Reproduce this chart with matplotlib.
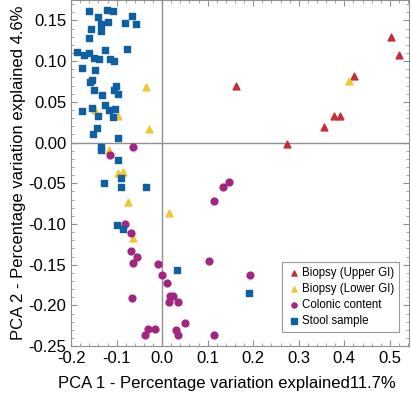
import numpy as np
import matplotlib
matplotlib.use("Agg")
import matplotlib.pyplot as plt

plt.rcParams['font.family'] = ['Liberation Sans', 'DejaVu Sans']

# Biopsy (Upper GI)
upper_x = [0.163, 0.274, 0.355, 0.377, 0.390, 0.421, 0.503, 0.521]
upper_y = [0.070, -0.002, 0.019, 0.032, 0.033, 0.082, 0.130, 0.107]

# Biopsy (Lower GI)
lower_x = [0.410, -0.036, -0.148, -0.097, -0.028, -0.116, -0.098, -0.087, -0.075, 0.016, -0.065]
lower_y = [0.075, 0.068, 0.040, 0.033, 0.017, -0.009, -0.037, -0.036, -0.073, -0.087, -0.117]

# Colonic content
colon_x = [-0.065, -0.114, -0.082, -0.068, -0.068, -0.056, -0.063, -0.009, 0.103, 0.000,
           0.010, -0.066, 0.017, 0.024, 0.014, 0.035, 0.146, 0.134, 0.114, 0.051,
           -0.031, -0.015, -0.037, 0.031, 0.035, 0.114, 0.193]
colon_y = [-0.005, -0.015, -0.100, -0.111, -0.133, -0.141, -0.148, -0.149, -0.146, -0.163,
           -0.172, -0.191, -0.189, -0.188, -0.196, -0.196, -0.048, -0.054, -0.072, -0.222,
           -0.229, -0.229, -0.236, -0.230, -0.236, -0.236, -0.162]

# Stool sample
stool_x = [-0.160, -0.121, -0.107, -0.140, -0.066, -0.134, -0.119, -0.082, -0.057, -0.157,
           -0.135, -0.161, -0.186, -0.171, -0.161, -0.149, -0.139, -0.125, -0.078, -0.114,
           -0.106, -0.177, -0.148, -0.155, -0.158, -0.101, -0.106, -0.150, -0.096, -0.132,
           -0.125, -0.177, -0.155, -0.117, -0.103, -0.141, -0.109, -0.143, -0.152, -0.096,
           -0.134, -0.135, -0.097, -0.090, -0.128, -0.091, -0.036, -0.099, -0.086, 0.032,
           0.190]
stool_y = [0.161, 0.163, 0.161, 0.154, 0.155, 0.146, 0.148, 0.147, 0.146, 0.139,
           0.137, 0.128, 0.111, 0.108, 0.110, 0.104, 0.102, 0.114, 0.115, 0.103,
           0.100, 0.091, 0.089, 0.077, 0.074, 0.070, 0.065, 0.064, 0.059, 0.058,
           0.046, 0.039, 0.042, 0.040, 0.041, 0.033, 0.031, 0.018, 0.011, 0.006,
           -0.006, -0.009, -0.022, -0.044, -0.050, -0.055, -0.055, -0.101, -0.106, -0.157,
           -0.185]

fig = plt.figure(figsize=(4.11, 3.97), dpi=100)
ax = fig.add_axes([0.173, 0.128, 0.822, 0.872])

ax.axhline(0, color="#909090", lw=1, zorder=1)
ax.axvline(0, color="#909090", lw=1, zorder=1)

ms = 24
ax.scatter(upper_x, upper_y, marker="^", s=ms, color="#c62b3b", label="Biopsy (Upper GI)", zorder=3)
ax.scatter(lower_x, lower_y, marker="^", s=ms, color="#f2c532", label="Biopsy (Lower GI)", zorder=3)
ax.scatter(colon_x, colon_y, marker="o", s=ms, color="#a2257f", label="Colonic content", zorder=3)
ax.scatter(stool_x, stool_y, marker="s", s=ms, color="#0f5fa3", label="Stool sample", zorder=3)

ax.set_xlim(-0.2, 0.542)
ax.set_ylim(-0.25, 0.175)
ax.set_xticks(np.arange(-0.2, 0.51, 0.1))
ax.set_xticklabels(["-0.2", "-0.1", "0.0", "0.1", "0.2", "0.3", "0.4", "0.5"])
ax.set_yticks(np.arange(-0.25, 0.16, 0.05))
ax.set_yticklabels(["-0.25", "-0.20", "-0.15", "-0.10", "-0.05", "0.00", "0.05", "0.10", "0.15"])
ax.minorticks_on()
ax.tick_params(which="both", direction="in", top=True, right=True, colors="#909090",
               labelcolor="black", labelsize=12)
ax.tick_params(which="major", length=4)
ax.tick_params(which="minor", length=2)
for sp in ax.spines.values():
    sp.set_color("#909090")

ax.set_xlabel("PCA 1 - Percentage variation explained11.7%", fontsize=12, labelpad=6)
ax.xaxis.set_label_coords(0.46, -0.085)
ax.set_ylabel("PCA 2 - Percentage variation explained 4.6%", fontsize=12, labelpad=2)

leg = ax.legend(loc="lower right", bbox_to_anchor=(0.972, 0.04), fontsize=8.3, frameon=True,
                fancybox=False, edgecolor="#808080", handletextpad=0.15, borderpad=0.45,
                labelspacing=0.35, markerscale=0.75, handlelength=1.1, borderaxespad=0)
leg.get_frame().set_linewidth(0.8)

fig.savefig("out.png", dpi=100)
